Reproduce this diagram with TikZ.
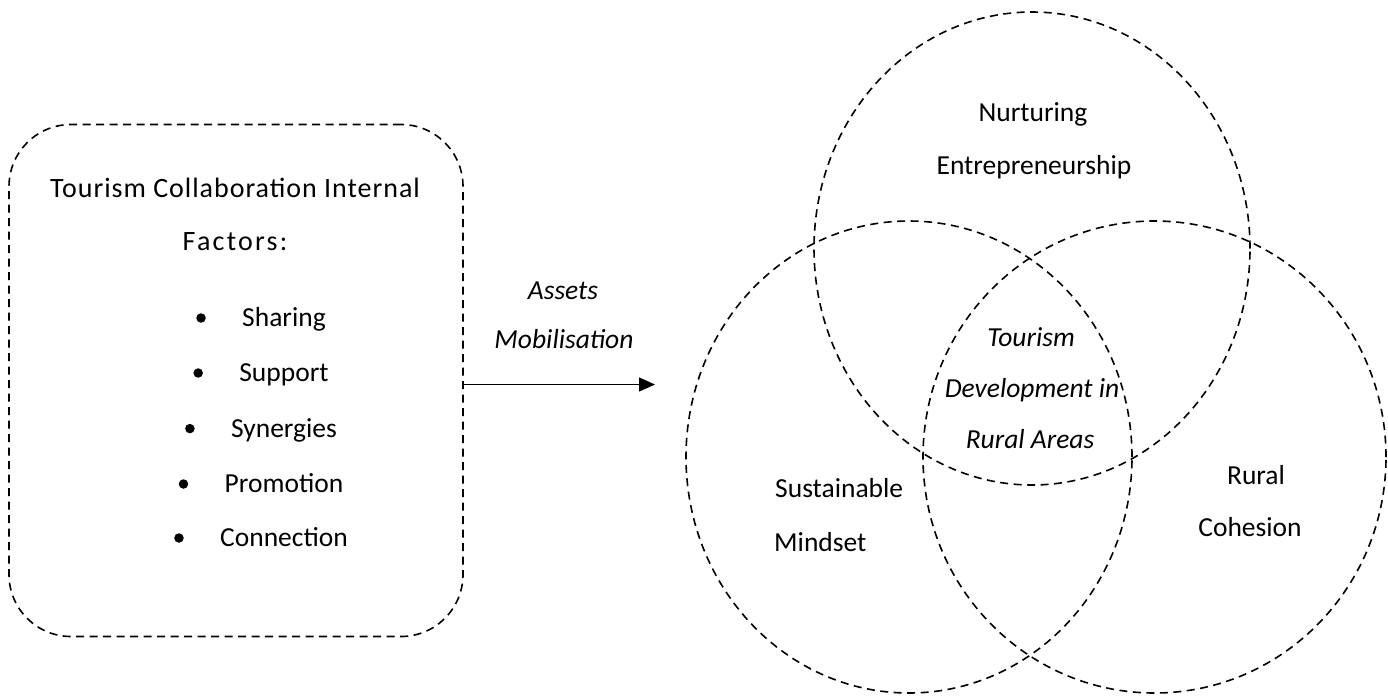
\documentclass[tikz,border=0pt]{standalone}
\usepackage{fontspec}
\setmainfont{Carlito}
\newfontfamily\headfont[LetterSpace=3.5]{Carlito}
\newfontfamily\headwidefont[LetterSpace=8]{Carlito}
\usetikzlibrary{shapes.geometric,arrows.meta}

\tikzset{
  dashline/.style={draw=black, line width=1.6pt, dash pattern=on 8pt off 5.5pt},
  factorbox/.style={dashline, rectangle, rounded corners=62pt, inner sep=0pt},
  venn/.style={dashline, ellipse, inner sep=0pt},
  txt/.style={anchor=base, inner sep=0pt, font=\fontsize{27.5}{33}\selectfont},
  itxt/.style={txt, font=\fontsize{27.5}{33}\selectfont\itshape},
  headtxt/.style={txt, font=\fontsize{28}{33}\headfont},
  bulletdot/.style={circle, fill=black, inner sep=0pt, minimum size=9.5pt},
  flow/.style={line width=1.4pt, -{Triangle[length=16pt,width=14pt]}}
}

\begin{document}
\begin{tikzpicture}[x=1pt, y=-1pt]
  \useasboundingbox (0,0) rectangle (1388,696);

  % left box with the collaboration factors
  \node[factorbox, minimum width=454pt, minimum height=512pt] (box) at (236,380.5) {};
  \node[headtxt] (title) at (235,197) {Tourism Collaboration Internal};
  \node[headtxt, font=\fontsize{28}{33}\headwidefont] (factors) at (235,250) {Factors:};

  \node[txt] (f1) at (284,326.7) {Sharing};
  \node[txt] (f2) at (284,381.7) {Support};
  \node[txt] (f3) at (284,437.3) {Synergies};
  \node[txt] (f4) at (284,492.7) {Promotion};
  \node[txt] (f5) at (284,546.7) {Connection};
  \foreach \i in {1,...,5}{
    \node[bulletdot] (b\i) at ([xshift=-41pt, yshift=8.7pt]f\i.base west) {};
  }

  % arrow into the Venn diagram
  \coordinate (tip) at (655,384.5);
  \draw[flow] ([yshift=-4pt]box.east) -- (tip);
  \node[itxt] (a1) at (563,299) {Assets};
  \node[itxt] (a2) at (564,348) {Mobilisation};

  % three overlapping circles
  \node[venn, minimum width=436pt, minimum height=473pt] (top) at (1032,248.5) {};
  \node[venn, minimum width=446pt, minimum height=472pt] (left) at (909,457) {};
  \node[venn, minimum width=463pt, minimum height=472pt] (right) at (1154.5,457) {};

  \node[txt] (n1) at (1033,121) {Nurturing};
  \node[txt] (n2) at (1034,174) {Entrepreneurship};

  \node[itxt] (c1) at (1031,346.7) {Tourism};
  \node[itxt] (c2) at (1032,397.7) {Development in};
  \node[itxt] (c3) at (1030,448) {Rural Areas};

  \node[txt, anchor=base west] (s1) at (775,497) {Sustainable};
  \node[txt, anchor=base west] (s2) at (774,551) {Mindset};

  \node[txt] (r1) at (1256,484) {Rural};
  \node[txt] (r2) at (1250,536) {Cohesion};
\end{tikzpicture}
\end{document}
